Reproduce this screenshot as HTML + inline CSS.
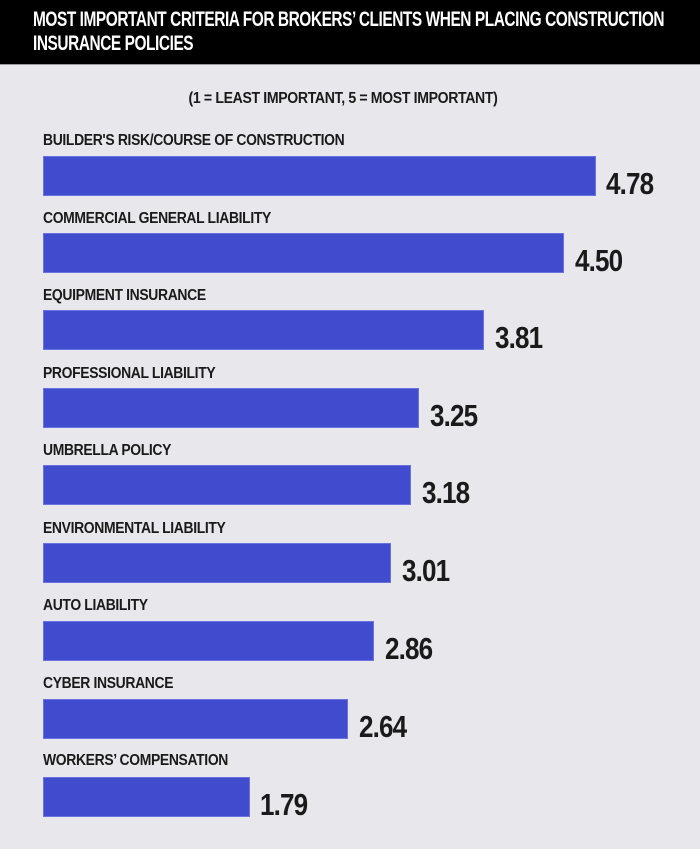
<!DOCTYPE html>
<html><head><style>
body{margin:0;width:700px;height:849px;background:#e7e7ec;position:relative;overflow:hidden;font-family:"Liberation Sans",sans-serif;font-weight:bold;color:#1a1a1a}
.hdr{position:absolute;left:0;top:0;width:700px;height:64px;background:#000;border-bottom:1px solid #999}
.t{position:absolute;left:33px;color:#fff;font-size:21px;letter-spacing:-0.6px;white-space:nowrap;transform:scaleX(0.735);transform-origin:left top}
.sub{position:absolute;left:-7px;width:700px;top:90px;text-align:center;font-size:16px;letter-spacing:-0.4px;transform:scaleX(0.88)}
.lab{position:absolute;left:43px;font-size:16px;letter-spacing:-0.4px;white-space:nowrap;transform:scaleX(0.87);transform-origin:left top}
.bar{position:absolute;left:43px;height:40px;background:#414bcd;box-sizing:border-box;border:1px solid #6a72e0}
.val{position:absolute;font-size:31px;letter-spacing:-1px;white-space:nowrap;transform:scaleX(0.84);transform-origin:left top}
</style></head><body>
<div class="hdr"></div>
<div class="t" style="top:8px">MOST IMPORTANT CRITERIA FOR BROKERS’ CLIENTS WHEN PLACING CONSTRUCTION</div>
<div class="t" style="top:32px">INSURANCE POLICIES</div>
<div class="sub">(1 = LEAST IMPORTANT, 5 = MOST IMPORTANT)</div>

<div class="lab" style="top:132px">BUILDER'S RISK/COURSE OF CONSTRUCTION</div>
<div class="bar" style="top:156px;width:553px"></div>
<div class="val" style="top:166px;left:606px">4.78</div>

<div class="lab" style="top:210px">COMMERCIAL GENERAL LIABILITY</div>
<div class="bar" style="top:233px;width:521px"></div>
<div class="val" style="top:243px;left:575px">4.50</div>

<div class="lab" style="top:287px">EQUIPMENT INSURANCE</div>
<div class="bar" style="top:310px;width:441px"></div>
<div class="val" style="top:320px;left:495px">3.81</div>

<div class="lab" style="top:365px">PROFESSIONAL LIABILITY</div>
<div class="bar" style="top:388px;width:376px"></div>
<div class="val" style="top:398px;left:430px">3.25</div>

<div class="lab" style="top:442px">UMBRELLA POLICY</div>
<div class="bar" style="top:465px;width:368px"></div>
<div class="val" style="top:475px;left:422px">3.18</div>

<div class="lab" style="top:520px">ENVIRONMENTAL LIABILITY</div>
<div class="bar" style="top:543px;width:348px"></div>
<div class="val" style="top:553px;left:402px">3.01</div>

<div class="lab" style="top:597px">AUTO LIABILITY</div>
<div class="bar" style="top:621px;width:331px"></div>
<div class="val" style="top:631px;left:385px">2.86</div>

<div class="lab" style="top:675px">CYBER INSURANCE</div>
<div class="bar" style="top:699px;width:305px"></div>
<div class="val" style="top:709px;left:359px">2.64</div>

<div class="lab" style="top:752px">WORKERS’ COMPENSATION</div>
<div class="bar" style="top:777px;width:207px"></div>
<div class="val" style="top:787px;left:260px">1.79</div>
</body></html>
